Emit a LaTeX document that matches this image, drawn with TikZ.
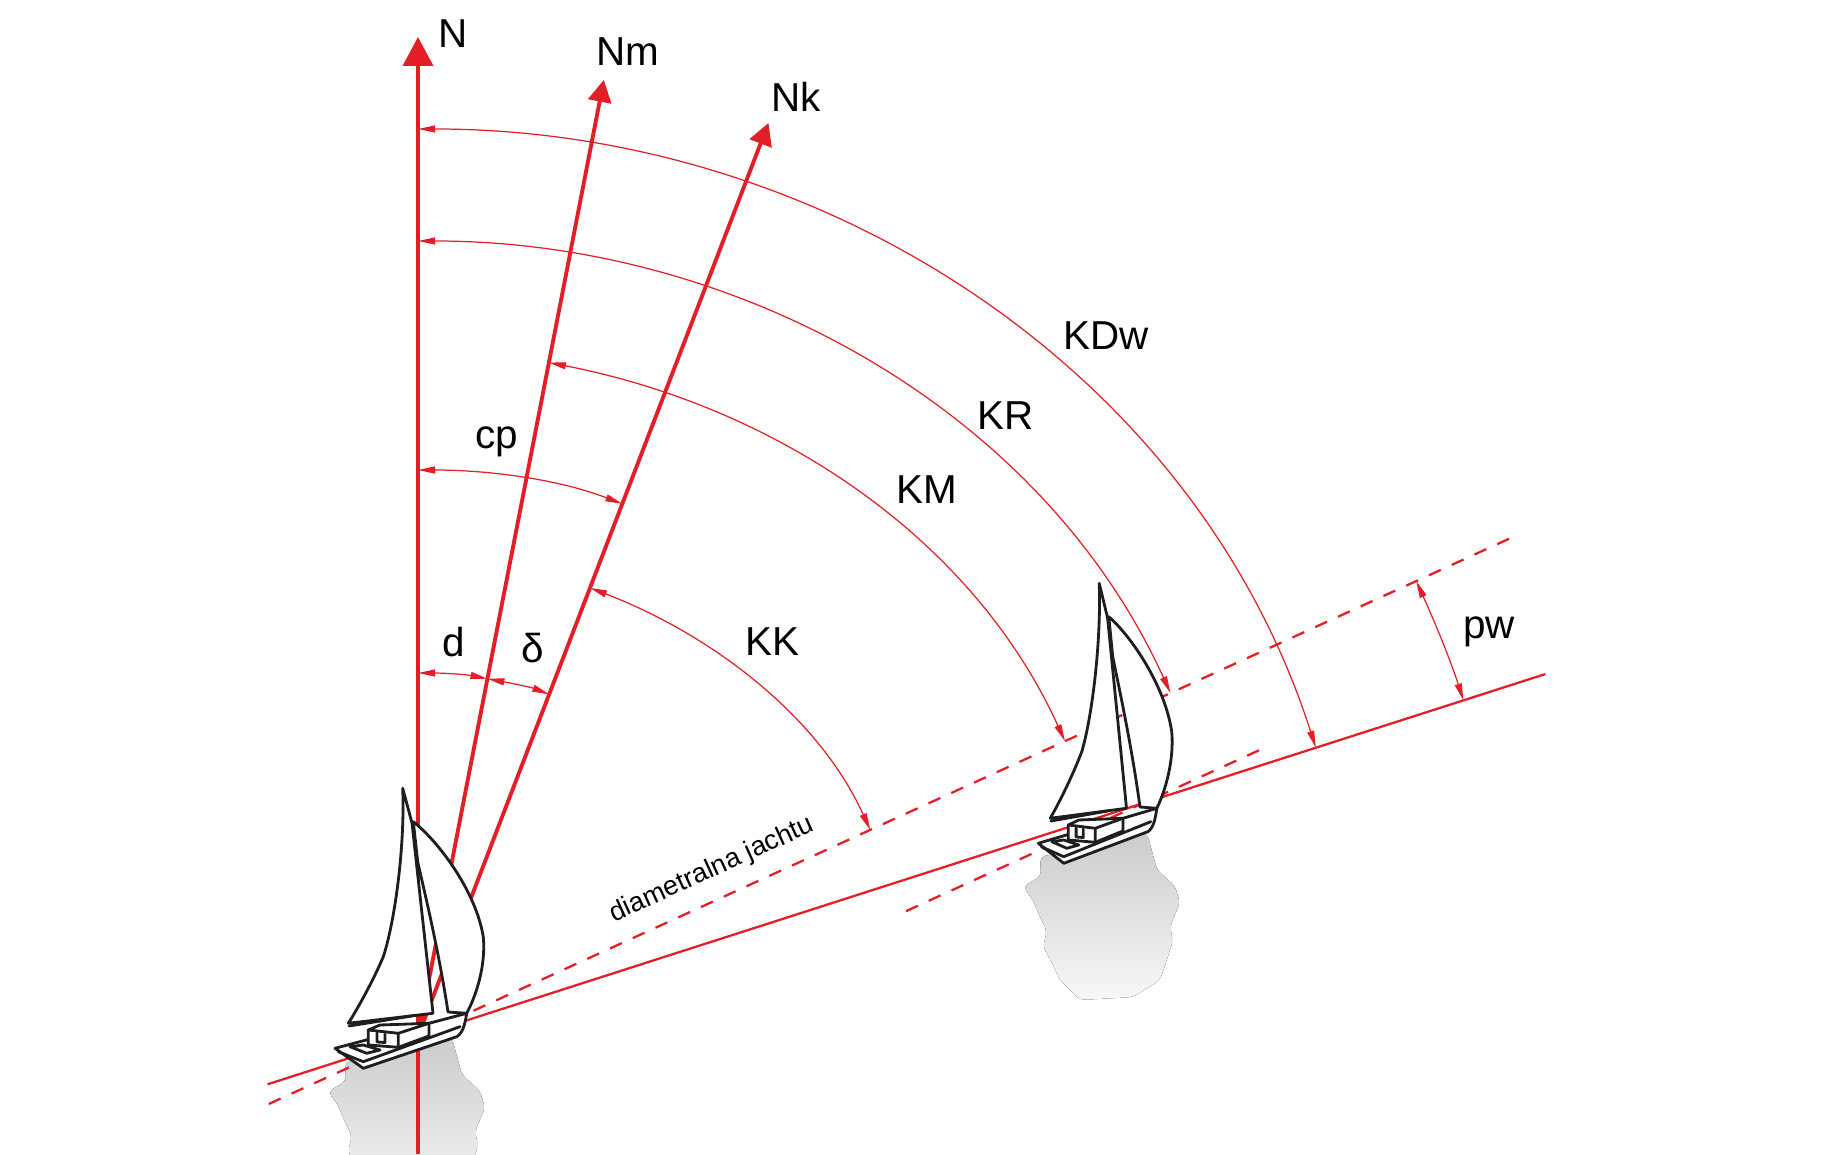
\documentclass[tikz,border=0pt]{standalone}
\usepackage{fontspec}
\setmainfont{Liberation Sans}
\usetikzlibrary{arrows.meta,calc}
\definecolor{navred}{RGB}{228,30,38}
\definecolor{sketch}{RGB}{30,30,30}
\tikzset{
	meridian/.style={navred, line width=1.1pt},
	track/.style={navred, line width=0.65pt},
	heading/.style={track, dash pattern=on 1.3mm off 1.2mm},
	bearing/.style={navred, line width=0.35pt,
			{Triangle[length=1.7mm,width=0.7mm]}-{Triangle[length=1.7mm,width=0.7mm]}},
	lbl/.style={inner sep=0pt, font=\fontsize{11.5}{14}\selectfont},
	boatline/.style={draw=sketch, line width=0.8pt, line join=round, line cap=round},
	boatshadow/.pic={
			\fill[top color=black!20, bottom color=black!3, rounded corners=1.5pt]
			(-0.73,-0.26) -- (0.34,-0.02) -- (0.44,-0.39) -- (0.62,-0.55) -- (0.67,-0.72)
			-- (0.57,-0.95) -- (0.60,-1.10) -- (0.47,-1.49) -- (0.20,-1.66) -- (-0.33,-1.69)
			-- (-0.53,-1.49) -- (-0.62,-1.30) -- (-0.70,-1.16) -- (-0.66,-1.00) -- (-0.73,-0.86)
			-- (-0.80,-0.69) -- (-0.90,-0.56) -- (-0.72,-0.45) -- cycle;
		},
	boathull/.pic={
			\draw[boatline, fill=white] (-0.83,-0.123) -- (0.487,0.227)
			.. controls (0.47,0.12) and (0.45,0.03) .. (0.387,-0.007) -- (-0.547,-0.323) -- cycle;
			\draw[boatline] (-0.797,-0.157) -- (-0.547,-0.257) -- (0.42,0.093);
			\draw[boatline] (-0.68,-0.107) -- (-0.547,-0.09) -- (-0.38,-0.14) -- (-0.513,-0.173) -- cycle;
			\draw[boatline, fill=white] (-0.497,0.06) -- (-0.38,0.11) -- (0.11,0.127) -- (0.11,0.0)
			-- (-0.197,-0.113) -- (-0.497,-0.09) -- cycle;
			\draw[boatline] (-0.497,0.06) -- (-0.197,0.027) -- (0.11,0.127) (-0.197,0.027) -- (-0.197,-0.113);
			\draw[boatline] (-0.41,0.03) -- (-0.41,-0.06) -- (-0.33,-0.065) -- (-0.33,0.02);
		},
	boatsails/.pic={
			\draw[boatline, fill=white] (-0.153,2.477) .. controls (-0.13,1.9) and (-0.23,1.15) .. (-0.347,0.793)
			.. controls (-0.45,0.55) and (-0.6,0.28) .. (-0.697,0.127) -- (0.15,0.227) -- (-0.06,2.13) -- cycle;
			\draw[boatline] (-0.69,0.10) -- (-0.06,0.2);
			\draw[boatline, fill=white] (-0.047,2.143) .. controls (0.20,1.95) and (0.58,1.45) .. (0.653,0.99)
			.. controls (0.68,0.7) and (0.58,0.4) .. (0.487,0.227) -- (0.30,0.24)
			.. controls (0.2,0.9) and (0.05,1.5) .. (-0.003,1.743) -- cycle;
		}
}
\begin{document}
\begin{tikzpicture}
	\useasboundingbox (0,0) rectangle (18.38,11.54);
	\coordinate (O) at (4.18,1.18);
	\coordinate (P) at ($(O)+(17.8:7.61)$);
	\coordinate (b2) at (11.13,3.23);

	\pic at (O) {boatshadow};
	\pic at (b2) {boatshadow};

	\coordinate (trk-s) at ($(O)+(197.8:1.58)$);
	\coordinate (trk-e) at ($(O)+(17.8:11.84)$);
	\coordinate (hdg-s) at ($(O)+(204.5:1.64)$);
	\coordinate (hdg-e) at ($(O)+(24.5:12.0)$);
	\coordinate (hdg2-s) at ($(P)+(204.5:2.6)$);
	\coordinate (hdg2-e) at ($(P)+(24.5:1.37)$);
	\draw[track] (trk-s) -- (trk-e);
	\draw[heading] (hdg-s) -- (hdg-e);
	\draw[heading] (hdg2-s) -- (hdg2-e);

	\coordinate (N-s) at (4.18,0);
	\coordinate (N-e) at ($(O)+(90:9.99)$);
	\coordinate (Nm-e) at ($(O)+(79:9.74)$);
	\coordinate (Nk-e) at ($(O)+(69:9.78)$);
	\draw[meridian, -{Triangle[length=2.9mm,width=3mm]}] (N-s) -- (N-e);
	\draw[meridian, -{Triangle[length=2.2mm,width=2.3mm]}] (O) -- (Nm-e);
	\draw[meridian, -{Triangle[length=2.2mm,width=2.3mm]}] (O) -- (Nk-e);

	\pic at (O) {boathull};
	\pic[xscale=.9] at (b2) {boathull};
	\pic at (O) {boatsails};
	\pic[xscale=.9] at (b2) {boatsails};

	\coordinate (d-a) at ($(O)+(90:3.63)$);
	\coordinate (d-b) at ($(O)+(79:3.64)$);
	\coordinate (dl-b) at ($(O)+(69:3.66)$);
	\coordinate (cp-a) at ($(O)+(90:5.66)$);
	\coordinate (cp-b) at ($(O)+(69:5.70)$);
	\coordinate (kk-a) at ($(O)+(69:4.80)$);
	\coordinate (kk-b) at ($(O)+(24.5:4.97)$);
	\coordinate (km-a) at ($(O)+(79:6.86)$);
	\coordinate (km-b) at ($(O)+(24.5:7.11)$);
	\coordinate (kr-a) at ($(O)+(90:7.95)$);
	\coordinate (kr-b) at ($(O)+(24.5:8.27)$);
	\coordinate (kdw-a) at ($(O)+(90:9.07)$);
	\coordinate (kdw-b) at ($(O)+(17.8:9.43)$);
	\coordinate (pw-a) at ($(O)+(24.5:10.97)$);
	\coordinate (pw-b) at ($(O)+(17.8:10.98)$);

	\draw[bearing] (d-a) to[out=0, in=169, looseness=.85] (d-b);
	\draw[bearing] (d-b) to[out=-11, in=159, looseness=.85] (dl-b);
	\draw[bearing] (cp-a) to[out=0, in=159, looseness=.86] (cp-b);
	\draw[bearing] (kk-a) to[out=-21, in=114.5, looseness=.88] (kk-b);
	\draw[bearing] (km-a) to[out=-11, in=114.5, looseness=.91] (km-b);
	\draw[bearing] (kr-a) to[out=0, in=114.5, looseness=.92] (kr-b);
	\draw[bearing] (kdw-a) to[out=0, in=107.8, looseness=.94] (kdw-b);
	\draw[bearing] (pw-a) to[out=-65.5, in=107.8, looseness=.85] (pw-b);

	\node[lbl] (N-lbl) at (4.53,11.20) {N};
	\node[lbl] (Nm-lbl) at (6.28,11.02) {Nm};
	\node[lbl] (Nk-lbl) at (7.96,10.57) {Nk};
	\node[lbl] (kdw-lbl) at (11.06,8.18) {KDw};
	\node[lbl] (kr-lbl) at (10.06,7.38) {KR};
	\node[lbl] (km-lbl) at (9.27,6.64) {KM};
	\node[lbl] (cp-lbl) at (4.97,7.12) {cp};
	\node[lbl] (kk-lbl) at (7.72,5.12) {KK};
	\node[lbl] (d-lbl) at (4.54,5.12) {d};
	\node[lbl] (dl-lbl) at (5.33,5.06) {δ};
	\node[lbl] (pw-lbl) at (14.89,5.22) {pw};
	\node[inner sep=0pt, font=\fontsize{7.7}{9}\selectfont, rotate=24.5] (diam-lbl) at (7.12,2.84) {diametralna jachtu};
\end{tikzpicture}
\end{document}
